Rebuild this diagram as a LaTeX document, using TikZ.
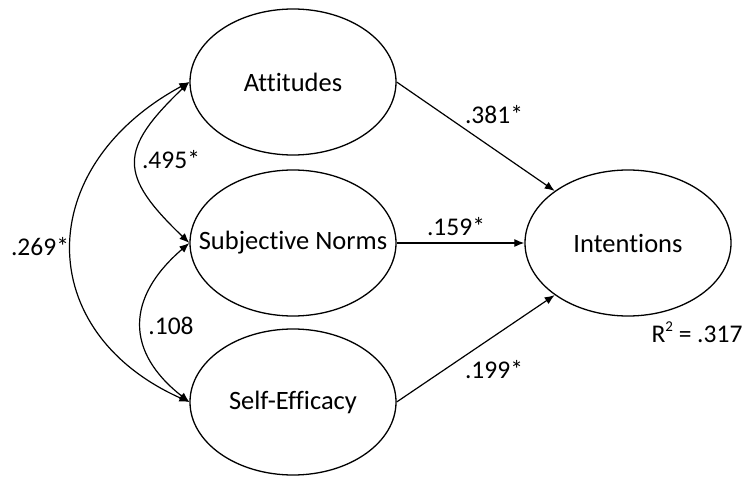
\documentclass[tikz,border=0pt]{standalone}
\usepackage{fontspec}
\setmainfont{Carlito}[Ligatures={NoCommon}]
\usetikzlibrary{shapes.geometric,arrows.meta,calc}
\begin{document}
\begin{tikzpicture}[x=1pt,y=-1pt,
  lat/.style={draw,ellipse,line width=1.3pt,minimum width=206pt,minimum height=146pt,inner sep=0pt,font=\fontsize{26.5}{30}\selectfont},
  path/.style={line width=1.2pt,-{Latex[length=10pt,width=8pt]}},
  cov/.style={line width=1.2pt,{Latex[length=10pt,width=8pt]}-{Latex[length=10pt,width=8pt]}},
  lbl/.style={font=\fontsize{25.5}{28}\selectfont,inner sep=0pt}]
\useasboundingbox (0,0) rectangle (746,476);
\node[lat] (att) at (293,82) {\makebox[0pt]{Attitudes}};
\node[lat] (sn) at (293,243) {\makebox[0pt]{Subjective Norms}};
\node[lat] (se) at (293,402) {\makebox[0pt]{Self-Efficacy}};
\node[lat] (int) at (628,243) {\makebox[0pt]{Intentions}};

\draw[path] (att.east) -- (int.north west);
\draw[path] (sn.east) -- (int.west);
\draw[path] (se.east) -- (int.south west);

\draw[cov] (att.west) .. controls ($(att.west)+(-71,68)$) and ($(sn.west)+(-71,-68)$) .. (sn.west);
\draw[cov] (sn.west) .. controls ($(sn.west)+(-64,55)$) and ($(se.west)+(-64,-50)$) .. (se.west);
\draw[cov] (att.west) .. controls ($(att.west)+(-157,85)$) and ($(se.west)+(-157,-70)$) .. (se.west);

\node[lbl] (l381) at (494,115) {.381*};
\node[lbl] (l159) at (456,227) {.159*};
\node[lbl] (l199) at (494,370) {.199*};
\node[lbl] (l495) at (171,160) {.495*};
\node[lbl] (l269) at (40,247) {.269*};
\node[lbl] (l108) at (171,326) {.108};
\node[lbl] (r2) at (697,332) {R\raisebox{0.42em}{\fontsize{15}{15}\selectfont 2} = .317};
\end{tikzpicture}
\end{document}
